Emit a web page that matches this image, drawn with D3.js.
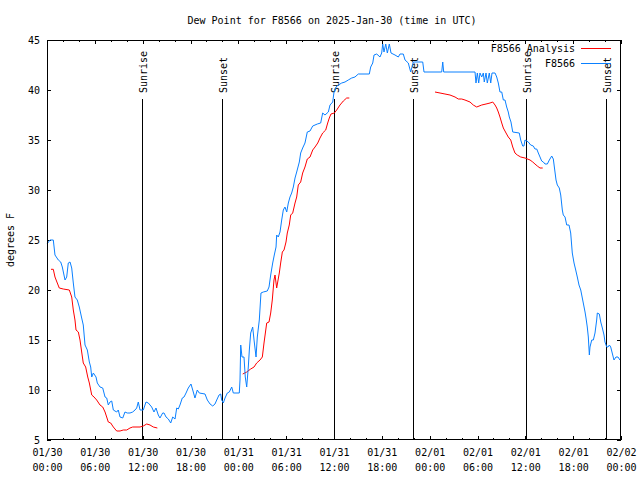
<!DOCTYPE html>
<html><head><meta charset="utf-8">
<script src="https://cdn.jsdelivr.net/npm/d3@7"></script>
<style>
body{margin:0;background:#fff;}
svg{display:block;}
text{font-family:"DejaVu Sans Mono","Liberation Mono",monospace;font-size:10px;fill:#000;}
</style></head>
<body>
<svg id="chart" width="640" height="480"></svg>
<script>
// ---- Data (hours since 01/30 00:00 UTC, dew point in °F) ----
const title = "Dew Point for F8566 on 2025-Jan-30 (time in UTC)";
const yTicks = [5,10,15,20,25,30,35,40,45];
const xTickHours = [0,6,12,18,24,30,36,42,48,54,60,66,72];
const xDateLabels = ["01/30","01/30","01/30","01/30","01/31","01/31","01/31","01/31","02/01","02/01","02/01","02/01","02/02"];
const xTimeLabels = ["00:00","06:00","12:00","18:00","00:00","06:00","12:00","18:00","00:00","06:00","12:00","18:00","00:00"];
const eventHours = [11.92, 21.91, 36.04, 45.95, 60.08, 70.06];
const eventLabels = ["Sunrise","Sunset","Sunrise","Sunset","Sunrise","Sunset"];

const obsHours = [0,0.38,0.79,1.0,1.42,1.72,1.92,2.26,2.47,2.67,2.89,3.10,3.30,3.51,3.80,4.05,4.35,4.55,4.77,5.06,5.31,5.48,5.61,5.81,6.15,6.31,6.65,6.99,7.28,7.49,7.69,7.90,8.12,8.32,8.74,8.94,9.16,9.50,9.78,10.07,10.41,10.75,11.04,11.25,11.45,11.67,12.08,12.42,12.71,13.13,13.42,13.67,13.96,14.17,14.51,14.68,14.93,15.22,15.52,15.77,16.06,16.27,16.47,16.68,16.97,17.19,17.44,17.72,18.06,18.28,18.56,18.85,19.10,19.82,20.11,20.45,20.79,21.07,21.29,21.58,21.79,21.91,22.12,22.33,22.62,22.87,23.17,23.37,24.12,24.21,24.30,24.46,24.71,24.87,25.05,25.25,25.38,25.55,25.80,25.97,26.22,26.38,26.63,26.84,27.13,27.63,27.85,28.06,28.31,28.51,28.73,28.81,29.01,29.23,29.44,29.64,29.85,30.07,30.27,30.48,30.69,30.90,31.11,31.32,31.65,31.82,32.07,32.36,32.65,32.99,33.33,33.91,34.33,34.58,34.87,35.29,35.50,35.84,36.00,36.25,36.54,36.97,37.38,37.79,38.22,38.63,39.05,40.43,40.60,40.86,41.02,41.36,41.77,41.98,42.11,42.27,42.49,42.69,42.94,43.15,43.65,44.07,44.28,44.69,44.91,45.32,45.45,45.62,45.95,47.13,47.29,49.51,49.64,49.76,53.69,53.81,53.98,54.15,54.31,54.53,54.73,54.85,55.07,55.23,55.48,55.66,55.82,56.20,56.41,56.61,56.82,57.04,57.24,57.45,57.66,57.86,57.99,58.20,58.42,59.24,59.42,59.67,59.83,59.96,60.37,60.67,61.00,61.21,61.43,61.63,61.84,62.05,62.26,62.47,62.76,63.01,63.31,63.51,63.72,63.85,64.01,64.26,64.44,64.64,64.76,64.98,65.19,65.48,65.69,65.89,66.11,66.32,66.52,66.73,66.95,67.27,67.49,67.61,67.77,67.90,68.03,68.11,68.33,68.53,68.74,68.95,69.03,69.28,69.46,69.66,69.87,69.99,70.21,70.37,70.54,70.71,70.96,71.12,71.37,71.62,71.87,72.0];
const obsValues = [24.6,25.0,25.0,23.5,23.0,22.8,22.3,21.0,21.3,22.7,22.8,22.2,20.7,19.3,19.0,18.3,17.2,16.5,14.5,14.0,12.8,12.3,11.3,11.7,11.3,10.7,10.3,10.2,9.3,9.2,8.5,8.8,8.9,8.0,7.8,8.0,7.3,7.2,7.8,7.7,7.7,7.8,8.0,8.2,8.8,8.0,8.0,8.8,8.7,8.3,7.8,8.2,7.5,7.2,7.7,7.7,7.3,7.1,6.7,7.3,7.1,8.2,8.1,8.5,9.2,9.3,9.7,10.2,10.6,10.0,9.2,10.0,9.7,9.6,9.0,8.6,8.4,8.6,9.0,9.5,9.6,9.0,8.7,9.2,9.7,9.8,10.3,9.7,9.7,11.0,14.5,13.3,13.3,11.3,10.3,12.3,14.0,15.7,16.3,15.0,13.3,15.3,17.0,19.7,19.8,19.9,20.3,21.5,22.7,23.5,24.3,25.5,25.3,25.8,27.0,28.0,28.3,27.8,28.7,29.3,29.7,30.3,31.2,31.8,32.8,33.7,34.2,34.7,35.8,35.9,36.4,36.6,36.7,37.7,37.5,37.8,38.5,38.8,39.8,40.3,40.5,40.7,40.8,41.0,41.2,41.3,41.6,41.6,42.3,42.7,43.5,43.6,43.3,43.7,44.6,43.8,44.6,43.7,44.6,43.7,43.5,43.3,43.6,43.6,43.0,42.7,42.3,41.8,42.8,42.8,41.8,41.8,42.8,41.8,41.8,40.7,41.7,40.7,41.7,41.3,41.7,40.8,41.7,40.7,41.7,40.7,41.7,41.7,41.3,40.7,39.8,39.8,39.0,39.0,38.3,37.8,37.3,36.8,35.8,35.7,35.0,34.4,34.4,35.0,34.8,34.5,34.4,34.1,34.1,33.7,33.3,32.9,32.8,32.6,32.6,33.0,33.4,33.1,31.8,31.0,30.5,30.2,29.5,28.0,27.5,27.3,26.5,26.5,25.7,23.7,22.7,22.0,21.3,20.5,20.0,18.7,17.8,17.2,16.3,15.3,13.5,14.3,15.0,15.0,15.7,17.0,17.7,17.6,16.8,16.2,15.5,14.8,14.3,14.3,14.5,14.3,13.5,13.0,13.3,13.3,13.0,12.9];

// null marks a gap in the analysis series
const anaHours = [0.50,0.79,1.00,1.29,1.54,2.04,2.80,3.10,3.30,3.51,3.64,3.93,4.14,4.35,4.55,4.85,5.11,5.31,5.61,5.90,6.23,6.65,6.99,7.28,7.69,7.99,8.32,8.74,9.16,9.57,10.00,10.41,10.75,11.67,12.08,12.51,12.92,13.33,13.84,
  18.0,
  24.55,25.05,25.55,25.97,26.30,26.72,27.01,27.22,27.56,27.85,28.06,28.26,28.47,28.60,28.81,28.94,29.14,29.31,29.52,29.73,29.98,30.14,30.39,30.57,30.82,31.11,31.32,31.52,31.82,32.07,32.36,32.65,32.99,33.33,33.62,33.96,34.24,34.58,34.96,35.21,35.41,35.62,36.04,36.34,36.75,37.17,37.59,37.92,
  43.0,
  48.67,49.30,49.92,50.55,51.18,51.59,52.02,52.43,53.06,53.47,53.90,54.53,55.07,55.57,55.91,56.20,56.41,56.61,56.82,57.04,57.24,57.58,57.86,58.17,58.42,58.70,58.99,59.42,59.96,60.59,60.93,61.21,61.50,61.84,62.18];
const anaValues = [22.07,22.07,21.3,20.7,20.2,20.1,20.0,19.3,18.0,17.0,16.0,15.8,15.0,13.8,12.7,12.3,11.3,10.7,9.5,9.3,9.0,8.5,8.3,7.8,6.8,6.7,6.3,5.9,5.9,6.0,6.0,6.2,6.3,6.3,6.4,6.6,6.5,6.3,6.2,
  null,
  11.6,11.8,12.1,12.3,12.7,13.0,13.3,14.7,16.7,16.8,17.7,19.0,21.0,21.5,20.2,20.8,21.7,22.7,23.8,24.0,24.8,25.7,26.5,27.5,27.7,28.7,29.3,30.5,30.8,31.7,32.3,33.1,33.3,34.0,34.3,34.7,35.2,35.7,36.0,36.7,37.2,37.6,37.7,38.0,38.5,38.9,39.2,39.2,
  null,
  39.8,39.7,39.6,39.5,39.3,39.1,39.1,39.0,38.8,38.5,38.3,38.5,38.6,38.7,38.8,38.5,38.2,37.8,37.3,36.7,36.2,35.7,35.3,35.0,34.3,33.7,33.5,33.3,33.2,33.0,32.8,32.6,32.4,32.2,32.2];

const seriesNames = ["F8566 Analysis","F8566"];
const seriesColors = ["#ff0000","#0a80ff"];

// ---- Layout ----
const svg = d3.select("#chart");
const L = 47, R = 621, T = 40, B = 440;
const x = d3.scaleLinear().domain([0,72]).range([L,R]);
const y = d3.scaleLinear().domain([5,45]).range([B,T]);

svg.append("rect").attr("width",640).attr("height",480).attr("fill","#fff");

// title
svg.append("text").attr("x",332).attr("y",24).attr("text-anchor","middle").text(title);

// y label
svg.append("text").attr("transform","translate(14,240) rotate(-90)")
  .attr("text-anchor","middle").text("degrees F");

// axes
const minorHours = d3.range(0,73,2).filter(h => h % 6 !== 0);
function styleAxis(g){ g.select(".domain").remove(); g.selectAll("line").attr("stroke","#000").attr("shape-rendering","crispEdges"); g.selectAll("text").style("font-family",null).style("font-size",null); }

const xAxis = svg.append("g").attr("transform",`translate(0,${B})`)
  .call(d3.axisBottom(x).tickValues(xTickHours).tickSizeInner(-4).tickSizeOuter(0).tickFormat(""));
styleAxis(xAxis);
xAxis.selectAll(".tick").each(function(d,i){
  const t = d3.select(this).append("text").attr("fill","#000").attr("text-anchor","middle");
  t.append("tspan").attr("x",0).attr("y",16).text(xDateLabels[i]);
  t.append("tspan").attr("x",0).attr("y",31).text(xTimeLabels[i]);
});
styleAxis(svg.append("g").attr("transform",`translate(0,${B})`)
  .call(d3.axisBottom(x).tickValues(minorHours).tickSizeInner(-2).tickSizeOuter(0).tickFormat("")));
styleAxis(svg.append("g").attr("transform",`translate(0,${T})`)
  .call(d3.axisTop(x).tickValues(xTickHours).tickSizeInner(-4).tickSizeOuter(0).tickFormat("")));
styleAxis(svg.append("g").attr("transform",`translate(0,${T})`)
  .call(d3.axisTop(x).tickValues(minorHours).tickSizeInner(-2).tickSizeOuter(0).tickFormat("")));

const yAxis = svg.append("g").attr("transform",`translate(${L},0)`)
  .call(d3.axisLeft(y).tickValues(yTicks).tickSizeInner(-4).tickSizeOuter(0).tickPadding(7));
styleAxis(yAxis);
yAxis.selectAll("text").attr("fill","#000");
styleAxis(svg.append("g").attr("transform",`translate(${R},0)`)
  .call(d3.axisRight(y).tickValues(yTicks).tickSizeInner(-4).tickSizeOuter(0).tickFormat("")));

// event lines
const ev = svg.append("g");
eventHours.forEach((h,i) => {
  const xp = Math.round(x(h)) + 0.5;
  ev.append("line").attr("x1",xp).attr("x2",xp).attr("y1",99).attr("y2",B)
    .attr("stroke","#000").attr("stroke-width",1).attr("shape-rendering","crispEdges");
  ev.append("text").attr("transform",`translate(${xp+4},93) rotate(-90)`)
    .attr("text-anchor","start").text(eventLabels[i]);
});

// series
const obsData = obsHours.map((h,i)=>({h, v:obsValues[i]}));
const anaData = anaHours.map((h,i)=>({h, v:anaValues[i]}));
const line = d3.line().defined(d => d.v !== null).x(d => x(d.h)).y(d => y(d.v));

svg.append("path").datum(anaData).attr("d",line).attr("fill","none")
  .attr("stroke",seriesColors[0]).attr("stroke-width",1);
svg.append("path").datum(obsData).attr("d",line).attr("fill","none")
  .attr("stroke",seriesColors[1]).attr("stroke-width",1);

// legend
seriesNames.forEach((name,i) => {
  const yy = 48 + i*14.5;
  svg.append("text").attr("x",575).attr("y",yy+4).attr("text-anchor","end").text(name);
  svg.append("line").attr("x1",581).attr("x2",611).attr("y1",Math.round(yy)+0.5).attr("y2",Math.round(yy)+0.5)
    .attr("stroke",seriesColors[i]).attr("stroke-width",1).attr("shape-rendering","crispEdges");
});

// frame
svg.append("rect").attr("x",L+0.5).attr("y",T+0.5).attr("width",R-L-1).attr("height",B-T-1)
  .attr("fill","none").attr("stroke","#000").attr("shape-rendering","crispEdges");
</script>
</body></html>
